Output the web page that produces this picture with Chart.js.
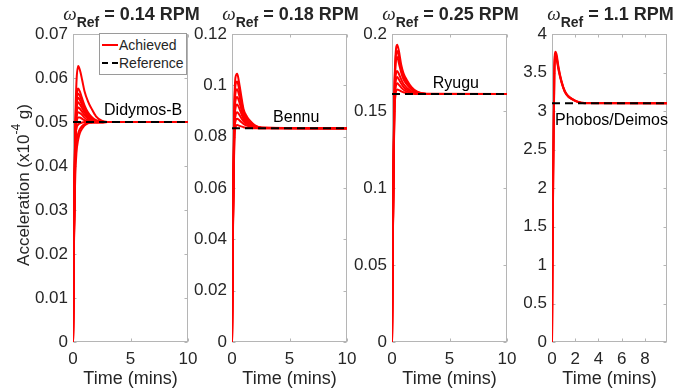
<!DOCTYPE html>
<html>
<head>
<meta charset="utf-8">
<script src="https://cdn.jsdelivr.net/npm/chart.js@4.4.1/dist/chart.umd.min.js"></script>
<style>
  body { margin: 0; background: #fff; }
  #wrap { position: relative; width: 685px; height: 392px; overflow: hidden;
          font-family: "Liberation Sans", Arial, sans-serif; color: #262626; }
  canvas { position: absolute; top: 0; }
  .ttl { position: absolute; top: 3px; width: 170px; text-align: center; font-size: 18px;
         font-weight: bold; white-space: nowrap; line-height: 22px; }
  .ttl .w { font-family: "Liberation Serif", serif; font-style: italic; font-weight: normal; font-size: 19px; }
  .ttl .sub { font-size: 14px; position: relative; top: 7px; }
  #ylab { position: absolute; left: -112px; top: 174px; width: 260px; height: 22px; line-height: 22px;
          text-align: center; font-size: 17px; transform: rotate(-90deg); white-space: nowrap; }
  #ylab sup { font-size: 12px; position: relative; top: -2px; }
  #legend { position: absolute; left: 99px; top: 33px; width: 86px; height: 40px; background: #fff;
            border: 1px solid #9a9a9a; font-size: 14px; color: #262626; }
  #legend .row { position: absolute; left: 0; height: 18px; line-height: 18px; }
  #legend svg { position: absolute; left: 1px; top: 0; }
  #legend span { position: absolute; left: 19px; top: 0; white-space: nowrap; }
</style>
</head>
<body>
<div id="wrap">
  <canvas id="c0" width="183" height="392"></canvas>
  <canvas id="c1" width="183" height="392"></canvas>
  <canvas id="c2" width="183" height="392"></canvas>
  <canvas id="c3" width="183" height="392"></canvas>
  <div id="ylab">Acceleration (x10<sup>-4</sup> g)</div>
  <div id="legend">
    <div class="row" style="top:2px">
      <svg width="18" height="18"><line x1="1" y1="9" x2="17" y2="9" stroke="#ff0000" stroke-width="2"/></svg>
      <span>Achieved</span>
    </div>
    <div class="row" style="top:20px">
      <svg width="18" height="18"><line x1="1" y1="9" x2="17" y2="9" stroke="#000" stroke-width="2" stroke-dasharray="6,4"/></svg>
      <span>Reference</span>
    </div>
  </div>
</div>
<script>
// panel labels and reference values
const omegaRef = ["0.14", "0.18", "0.25", "1.1"];
const bodyNames = ["Didymos-B", "Bennu", "Ryugu", "Phobos/Deimos"];
const refAccel = [0.05, 0.0833, 0.161, 3.1];
const yMax = [0.07, 0.12, 0.2, 4];
const yStep = [0.01, 0.02, 0.05, 0.5];
const xMax = [10, 10, 10, 9.9];
const xStep = [5, 5, 5, 2];

// Didymos-B (time in mins)
const timeDidymos = [0, 0.1, 0.2, 0.3, 0.45, 0.6, 0.8, 1.0, 1.3, 1.6, 2.0, 2.5, 3.0, 10];
const didymosRuns = [
  [0, 0.030, 0.050, 0.0590, 0.0627, 0.0618, 0.0595, 0.0570, 0.0547, 0.0531, 0.0513, 0.0503, 0.0500, 0.0500],
  [0, 0.029, 0.048, 0.0552, 0.0576, 0.0569, 0.0553, 0.0538, 0.0522, 0.0512, 0.0504, 0.0501, 0.0500, 0.0500],
  [0, 0.029, 0.047, 0.0542, 0.0565, 0.0559, 0.0546, 0.0532, 0.0518, 0.0509, 0.0503, 0.0500, 0.0500, 0.0500],
  [0, 0.028, 0.046, 0.0533, 0.0555, 0.0550, 0.0538, 0.0527, 0.0514, 0.0507, 0.0502, 0.0500, 0.0500, 0.0500],
  [0, 0.028, 0.046, 0.0524, 0.0545, 0.0540, 0.0531, 0.0522, 0.0511, 0.0505, 0.0501, 0.0500, 0.0500, 0.0500],
  [0, 0.027, 0.045, 0.0515, 0.0533, 0.0530, 0.0523, 0.0516, 0.0508, 0.0503, 0.0500, 0.0499, 0.0500, 0.0500],
  [0, 0.027, 0.044, 0.0505, 0.0522, 0.0520, 0.0516, 0.0510, 0.0504, 0.0501, 0.0499, 0.0499, 0.0500, 0.0500],
  [0, 0.026, 0.043, 0.0495, 0.0510, 0.0510, 0.0507, 0.0504, 0.0501, 0.0499, 0.0499, 0.0500, 0.0500, 0.0500],
  [0, 0.034, 0.046, 0.0485, 0.0494, 0.0497, 0.0499, 0.0500, 0.0500, 0.0500, 0.0500, 0.0500, 0.0500, 0.0500],
  [0, 0.030, 0.042, 0.0455, 0.0474, 0.0484, 0.0491, 0.0495, 0.0498, 0.0499, 0.0500, 0.0500, 0.0500, 0.0500],
  [0, 0.026, 0.038, 0.0430, 0.0460, 0.0475, 0.0485, 0.0492, 0.0497, 0.0499, 0.0500, 0.0500, 0.0500, 0.0500]
];

// Bennu
const timeBennu = [0, 0.1, 0.2, 0.3, 0.45, 0.6, 0.8, 1.0, 1.3, 1.6, 2.0, 2.6, 10];
const bennuRuns = [
  [0, 0.055, 0.092, 0.1030, 0.1045, 0.1015, 0.0960, 0.0908, 0.0878, 0.0860, 0.0844, 0.0836, 0.0833],
  [0, 0.055, 0.090, 0.1000, 0.1015, 0.0990, 0.0943, 0.0898, 0.0872, 0.0857, 0.0842, 0.0835, 0.0833],
  [0, 0.054, 0.088, 0.0970, 0.0985, 0.0965, 0.0926, 0.0888, 0.0866, 0.0853, 0.0840, 0.0834, 0.0833],
  [0, 0.054, 0.086, 0.0940, 0.0955, 0.0940, 0.0909, 0.0879, 0.0861, 0.0849, 0.0839, 0.0834, 0.0833],
  [0, 0.053, 0.084, 0.0910, 0.0925, 0.0914, 0.0891, 0.0869, 0.0855, 0.0845, 0.0837, 0.0834, 0.0833],
  [0, 0.052, 0.082, 0.0880, 0.0895, 0.0888, 0.0873, 0.0860, 0.0849, 0.0842, 0.0836, 0.0834, 0.0833],
  [0, 0.051, 0.080, 0.0860, 0.0870, 0.0866, 0.0857, 0.0850, 0.0843, 0.0838, 0.0835, 0.0833, 0.0833],
  [0, 0.050, 0.078, 0.0835, 0.0845, 0.0843, 0.0840, 0.0837, 0.0835, 0.0834, 0.0833, 0.0833, 0.0833]
];

// Ryugu
const timeRyugu = [0, 0.1, 0.2, 0.3, 0.45, 0.6, 0.8, 1.0, 1.3, 1.7, 2.2, 3.0, 10];
const ryuguRuns = [
  [0, 0.090, 0.160, 0.185, 0.193, 0.189, 0.180, 0.1745, 0.1700, 0.1655, 0.1625, 0.1612, 0.161],
  [0, 0.090, 0.158, 0.182, 0.189, 0.185, 0.177, 0.1725, 0.1685, 0.1647, 0.1622, 0.1611, 0.161],
  [0, 0.090, 0.156, 0.179, 0.185, 0.181, 0.175, 0.1705, 0.1672, 0.1640, 0.1619, 0.1611, 0.161],
  [0, 0.088, 0.152, 0.171, 0.176, 0.1740, 0.1705, 0.1675, 0.1650, 0.1628, 0.1615, 0.1610, 0.161],
  [0, 0.087, 0.150, 0.168, 0.172, 0.1705, 0.1678, 0.1656, 0.1637, 0.1622, 0.1613, 0.1610, 0.161],
  [0, 0.086, 0.148, 0.164, 0.168, 0.1670, 0.1652, 0.1638, 0.1626, 0.1617, 0.1612, 0.1610, 0.161],
  [0, 0.085, 0.146, 0.160, 0.164, 0.1636, 0.1628, 0.1622, 0.1616, 0.1613, 0.1610, 0.1610, 0.161]
];

// Phobos/Deimos
const timePhobos = [0, 0.1, 0.2, 0.3, 0.4, 0.55, 0.8, 1.1, 1.4, 1.7, 2.2, 2.8, 9.9];
const phobosRuns = [
  [0, 2.20, 3.55, 3.77, 3.73, 3.58, 3.40, 3.26, 3.195, 3.160, 3.122, 3.104, 3.1],
  [0, 2.15, 3.50, 3.74, 3.70, 3.56, 3.39, 3.255, 3.190, 3.157, 3.120, 3.103, 3.1],
  [0, 2.10, 3.45, 3.70, 3.67, 3.54, 3.38, 3.250, 3.185, 3.154, 3.118, 3.102, 3.1]
];

const allTimes = [timeDidymos, timeBennu, timeRyugu, timePhobos];
const allRuns = [didymosRuns, bennuRuns, ryuguRuns, phobosRuns];

// where the name label sits, in data units
const labelAt = [[2.7, 0.0527], [3.57, 0.0873], [3.54, 0.168], [0.26, 2.88]];

// plot box left edges on the page
const plotLeft = [73, 232, 392, 552];
const plotW = 115;
const yAxisW = 50;
const padR = 18;

Chart.defaults.font.family = '"Liberation Sans", Arial, sans-serif';
Chart.defaults.font.size = 17;
Chart.defaults.color = "#262626";

// box with inward ticks + body name
const framePlugin = {
  id: "frame",
  beforeDatasetsDraw(chart) {
    const { ctx, chartArea: a, scales } = chart;
    const l = Math.round(a.left) + 0.5, r = Math.round(a.right) - 0.5;
    const t = Math.round(a.top) + 0.5, b = Math.round(a.bottom) - 0.5;
    ctx.save();
    ctx.strokeStyle = "#b5b5b5";
    ctx.lineWidth = 1;
    ctx.strokeRect(l, t, r - l, b - t);
    ctx.beginPath();
    scales.x.ticks.forEach(tk => {
      const px = Math.round(scales.x.getPixelForValue(tk.value)) + 0.5;
      ctx.moveTo(px, b); ctx.lineTo(px, b - 3);
      ctx.moveTo(px, t); ctx.lineTo(px, t + 3);
    });
    scales.y.ticks.forEach(tk => {
      const py = Math.round(scales.y.getPixelForValue(tk.value)) + 0.5;
      ctx.moveTo(l, py); ctx.lineTo(l + 3, py);
      ctx.moveTo(r, py); ctx.lineTo(r - 3, py);
    });
    ctx.stroke();
    ctx.restore();
  },
  afterDraw(chart, args, opts) {
    const { ctx, scales } = chart;
    ctx.save();
    ctx.fillStyle = "#000";
    ctx.font = '16px "Liberation Sans", Arial, sans-serif';
    ctx.textBaseline = "middle";
    ctx.textAlign = "left";
    ctx.fillText(opts.text, scales.x.getPixelForValue(opts.x), scales.y.getPixelForValue(opts.y));
    ctx.restore();
  }
};

function makePanel(i) {
  const canvas = document.getElementById("c" + i);
  canvas.style.left = (plotLeft[i] - yAxisW) + "px";
  canvas.width = yAxisW + plotW + padR;
  canvas.style.width = canvas.width + "px";
  canvas.style.height = "392px";

  const times = allTimes[i];
  const datasets = [{
    label: "Reference",
    data: [{ x: 0, y: refAccel[i] }, { x: xMax[i], y: refAccel[i] }],
    borderColor: "#000000",
    borderWidth: 2,
    borderDash: [8, 5],
    pointRadius: 0
  }];
  allRuns[i].forEach((run, k) => {
    datasets.push({
      label: "Achieved " + (k + 1),
      data: run.map((v, j) => ({ x: times[j], y: v })),
      borderColor: "#ff0000",
      borderWidth: 2,
      pointRadius: 0,
      cubicInterpolationMode: "monotone"
    });
  });

  const title = document.createElement("div");
  title.className = "ttl";
  title.style.left = (plotLeft[i] + plotW / 2 - 84) + "px";
  title.innerHTML = '<span class="w">\u03c9</span><span class="sub">Ref</span> = ' + omegaRef[i] + " RPM";
  document.getElementById("wrap").appendChild(title);

  new Chart(canvas, {
    type: "line",
    data: { datasets: datasets },
    options: {
      responsive: false,
      animation: false,
      devicePixelRatio: 1,
      layout: { padding: { top: 34, right: padR, left: 0, bottom: 0 } },
      plugins: {
        legend: { display: false },
        tooltip: { enabled: false },
        frame: { text: bodyNames[i], x: labelAt[i][0], y: labelAt[i][1] }
      },
      scales: {
        x: {
          type: "linear",
          min: 0,
          max: xMax[i],
          grid: { display: false, drawTicks: false },
          border: { display: false },
          ticks: { stepSize: xStep[i], includeBounds: false, maxRotation: 0, padding: 7 },
          title: { display: true, text: "Time (mins)", font: { size: 18 }, padding: { top: 0, bottom: 2 } },
          afterFit: s => { s.height = 50; }
        },
        y: {
          min: 0,
          max: yMax[i],
          grid: { display: false, drawTicks: false },
          border: { display: false },
          ticks: { stepSize: yStep[i], padding: 5, callback: v => String(+v.toFixed(4)) },
          afterFit: s => { s.width = yAxisW; }
        }
      }
    },
    plugins: [framePlugin]
  });
}

[0, 1, 2, 3].forEach(makePanel);
</script>
</body>
</html>
